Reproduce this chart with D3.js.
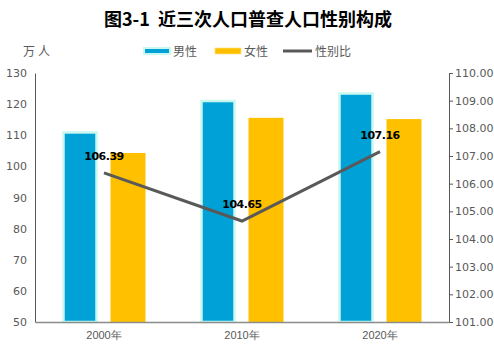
<!DOCTYPE html>
<html><head><meta charset="utf-8">
<script src="https://cdn.jsdelivr.net/npm/d3@7"></script>
<style>body{margin:0;background:#fff;}svg{display:block;font-family:"Noto Sans CJK SC","DejaVu Sans",sans-serif;}</style>
</head><body>
<svg id="c" width="494" height="358"></svg>
<script>
const categories = ["2000年","2010年","2020年"];
const male = [110.9, 121.0, 123.4];
const female = [104.3, 115.6, 115.2];
const ratio = [106.39, 104.65, 107.16];
const leftTicks = [50,60,70,80,90,100,110,120,130];
const rightTicks = [101,102,103,104,105,106,107,108,109,110];

const svg = d3.select("#c");
const L = 35, R = 449, T = 73, B = 322;
const x = d3.scaleBand().domain(categories).range([L, R]);
const y = d3.scaleLinear().domain([50,130]).range([B, T]);
const y2 = d3.scaleLinear().domain([101,110]).range([B, T]);
const grey = "#595959";

svg.append("text").attr("x", 248).attr("y", 26).attr("text-anchor","middle")
  .attr("font-size", 18).attr("font-weight","bold").attr("fill","#000")
  .style("white-space","pre")
  .text("图3-1  近三次人口普查人口性别构成");

svg.append("text").attr("x", 23).attr("y", 56).attr("font-size", 12).attr("fill", grey)
  .attr("letter-spacing", 3).text("万人");

// legend
const lg = svg.append("g");
lg.append("rect").attr("x",144).attr("y",48).attr("width",26).attr("height",6)
  .attr("fill","#00A1D6").attr("stroke","#C8F8F0").attr("stroke-width",2);
lg.append("text").attr("x",173).attr("y",56).attr("font-size",12).attr("fill",grey).text("男性");
lg.append("rect").attr("x",215).attr("y",48).attr("width",26).attr("height",6)
  .attr("fill","#FFC000").attr("stroke","#FFE080").attr("stroke-width",0.7);
lg.append("text").attr("x",244).attr("y",56).attr("font-size",12).attr("fill",grey).text("女性");
lg.append("line").attr("x1",283).attr("x2",312).attr("y1",51).attr("y2",51)
  .attr("stroke",grey).attr("stroke-width",3);
lg.append("text").attr("x",315).attr("y",56).attr("font-size",12).attr("fill",grey).text("性别比");

// bars
const bw = 33, gap = 15;
svg.append("g").selectAll("rect").data(categories).join("rect")
  .attr("x", d => x(d) + x.bandwidth()/2 - gap/2 - bw)
  .attr("y", (d,i) => y(male[i]))
  .attr("width", bw)
  .attr("height", (d,i) => B - y(male[i]))
  .attr("fill", "#00A1D6").attr("stroke", "#C8F8F0").attr("stroke-width", 2.5);
svg.append("g").selectAll("rect").data(categories).join("rect")
  .attr("x", d => x(d) + x.bandwidth()/2 + gap/2 - 1)
  .attr("y", (d,i) => y(female[i]))
  .attr("width", bw + 2)
  .attr("height", (d,i) => B - y(female[i]))
  .attr("fill", "#FFC000");

// axes
const ax = svg.append("g").attr("transform",`translate(${L},0)`)
  .call(d3.axisLeft(y).tickValues(leftTicks).tickSize(0).tickPadding(8));
ax.select(".domain").attr("stroke", grey).attr("stroke-width",1);
ax.selectAll("text").attr("font-size",11).attr("fill",grey).attr("font-family","DejaVu Sans, sans-serif");

const ar = svg.append("g").attr("transform",`translate(${R},0)`)
  .call(d3.axisRight(y2).tickValues(rightTicks).tickFormat(d3.format(".2f")).tickSize(4).tickSizeOuter(4).tickPadding(2));
ar.select(".domain").attr("stroke", grey);
ar.selectAll("line").attr("stroke", grey);
ar.selectAll("text").attr("font-size",11).attr("fill",grey).attr("font-family","DejaVu Sans, sans-serif");

const axb = svg.append("g").attr("transform",`translate(0,${B})`)
  .call(d3.axisBottom(x).tickSize(0).tickPadding(9));
axb.select(".domain").attr("stroke", "#8c8c8c").attr("stroke-width",1.5);
axb.selectAll("text").attr("font-size",11).attr("fill",grey);

// line
const cx = d => x(d) + x.bandwidth()/2;
svg.append("path").datum(categories)
  .attr("d", d3.line().x(d => cx(d)).y((d,i) => y2(ratio[i])))
  .attr("fill","none").attr("stroke",grey).attr("stroke-width",3);

svg.append("g").selectAll("text").data(categories).join("text")
  .attr("x", d => cx(d)).attr("y", (d,i) => y2(ratio[i]) - 13)
  .attr("text-anchor","middle").attr("font-size",11).attr("font-weight","bold")
  .attr("fill","#000").attr("font-family","DejaVu Sans, sans-serif")
  .attr("letter-spacing",-0.5)
  .text((d,i) => ratio[i].toFixed(2));
</script>
</body></html>
